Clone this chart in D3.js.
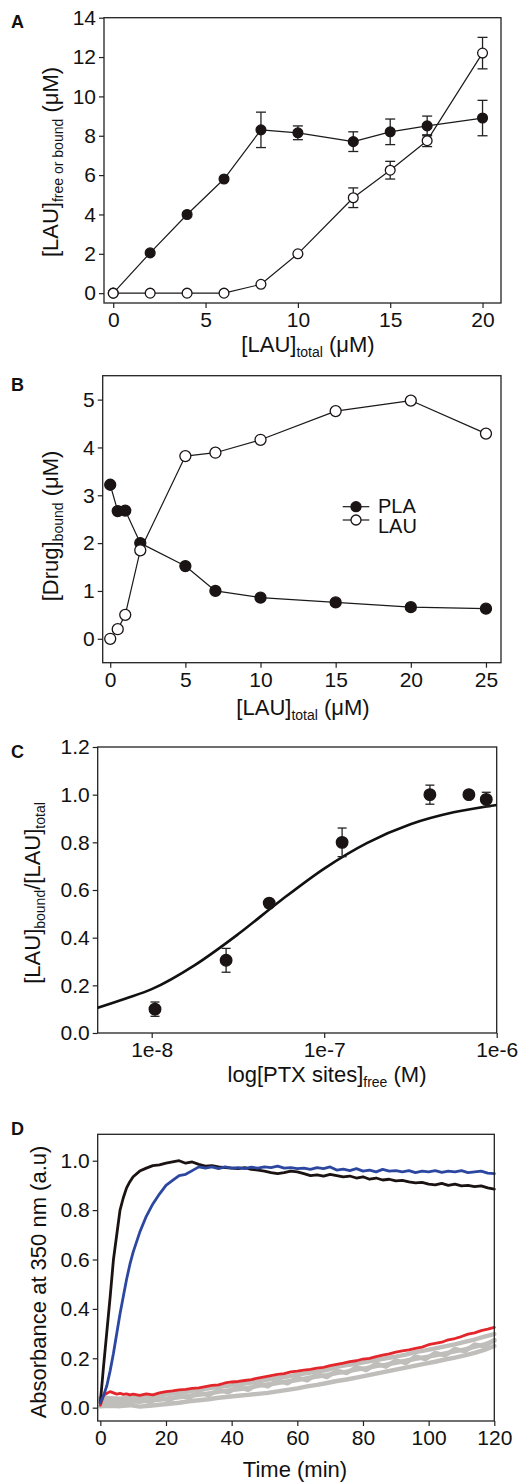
<!DOCTYPE html>
<html><head><meta charset="utf-8">
<script src="https://cdn.jsdelivr.net/npm/d3@7"></script>
<style>body{margin:0;background:#fff}svg{display:block}</style>
</head><body>
<script>
// ---------- Panel A ----------
const aX = [0, 2, 4, 6, 8, 10, 13, 15, 17, 20];
const aBound = [0, 2.05, 4, 5.8, 8.3, 8.15, 7.7, 8.2, 8.5, 8.9];
const aBoundErr = [0, 0, 0, 0, 0.9, 0.35, 0.5, 0.65, 0.5, 0.9];
const aFree = [0, 0, 0, 0, 0.45, 2, 4.85, 6.25, 7.75, 12.2];
const aFreeErr = [0, 0, 0, 0, 0, 0, 0.5, 0.45, 0.3, 0.8];
const aXTicks = [0, 5, 10, 15, 20];
const aYTicks = [0, 2, 4, 6, 8, 10, 12, 14];

// ---------- Panel B ----------
const bX = [0, 0.5, 1, 2, 5, 7, 10, 15, 20, 25];
const bPLA = [3.22, 2.67, 2.68, 2.0, 1.52, 1.0, 0.86, 0.76, 0.66, 0.63];
const bLAU = [0, 0.2, 0.5, 1.85, 3.82, 3.89, 4.16, 4.76, 4.98, 4.29];
const bXTicks = [0, 5, 10, 15, 20, 25];
const bYTicks = [0, 1, 2, 3, 4, 5];
const bLegend = ["PLA", "LAU"];

// ---------- Panel C ----------
const cX = [1.045e-8, 2.7e-8, 4.8e-8, 1.27e-7, 4.1e-7, 6.9e-7, 8.7e-7];
const cY = [0.1, 0.305, 0.545, 0.8, 1.0, 1.0, 0.98];
const cErr = [0.03, 0.05, 0.015, 0.06, 0.04, 0.01, 0.03];
const cFitLogX = [-8.313, -8.15, -8.0, -7.75, -7.5, -7.25, -7.0, -6.75, -6.5, -6.25, -6.0];
const cFitY = [0.106, 0.145, 0.184, 0.285, 0.414, 0.557, 0.69, 0.798, 0.876, 0.926, 0.957];
const cXTicks = [1e-8, 1e-7, 1e-6];
const cXTickLabels = ["1e-8", "1e-7", "1e-6"];
const cYTicks = [0, 0.2, 0.4, 0.6, 0.8, 1.0, 1.2];

// ---------- Panel D ----------
const dT = [0,1,2,3,4,5,6,7,8,9,10,12,14,16,18,20,22,24,26,28,30,32,34,36,38,40,42,44,46,48,50,52,54,56,58,60,62,64,66,68,70,72,74,76,78,80,82,84,86,88,90,92,94,96,98,100,102,104,106,108,110,112,114,116,118,120];
const dBlack = [0.02,0.17,0.31,0.45,0.6,0.7,0.8,0.85,0.89,0.915,0.935,
  0.958,0.97,0.98,0.983,0.99,0.995,1.0,0.99,0.995,0.985,0.978,0.98,0.975,0.972,0.97,0.968,0.972,0.965,0.962,0.958,0.952,0.948,0.952,0.958,0.955,0.948,0.94,0.943,0.938,0.945,0.94,0.935,0.938,0.93,0.935,0.925,0.93,0.922,0.925,0.918,0.92,0.914,0.91,0.912,0.905,0.902,0.908,0.9,0.905,0.898,0.9,0.895,0.898,0.89,0.885];
const dBlue = [0.02,0.05,0.09,0.15,0.22,0.3,0.38,0.45,0.52,0.58,0.63,
  0.71,0.775,0.825,0.865,0.9,0.92,0.94,0.945,0.96,0.975,0.97,0.975,0.968,0.975,0.97,0.972,0.968,0.974,0.97,0.975,0.972,0.978,0.97,0.972,0.968,0.97,0.965,0.972,0.968,0.975,0.962,0.966,0.96,0.968,0.958,0.962,0.955,0.965,0.958,0.96,0.955,0.96,0.952,0.958,0.955,0.96,0.953,0.958,0.955,0.96,0.952,0.955,0.958,0.95,0.948];
const dRed = [0.01,0.05,0.058,0.065,0.06,0.055,0.058,0.054,0.056,0.052,0.055,
  0.05,0.056,0.052,0.06,0.065,0.068,0.072,0.074,0.078,0.08,0.085,0.09,0.092,0.1,0.104,0.106,0.11,0.114,0.12,0.125,0.13,0.135,0.138,0.145,0.148,0.152,0.155,0.16,0.163,0.17,0.175,0.18,0.186,0.19,0.197,0.2,0.207,0.213,0.218,0.225,0.23,0.234,0.24,0.245,0.255,0.26,0.265,0.275,0.28,0.288,0.298,0.303,0.312,0.318,0.325];
const dTGray = [0,3,6,9,12,15,18,21,24,27,30,33,36,39,42,45,48,51,54,57,60,63,66,69,72,75,78,81,84,87,90,93,96,99,102,105,108,111,114,117,120];
const dGray1 = [0.04,0.038,0.036,0.04,0.042,0.046,0.05,0.056,0.06,0.066,0.072,0.078,0.084,0.088,0.094,0.1,0.106,0.114,0.12,0.126,0.134,0.14,0.146,0.152,0.165,0.172,0.178,0.186,0.193,0.2,0.207,0.215,0.225,0.232,0.24,0.248,0.256,0.266,0.276,0.288,0.298];
const dGray2 = [0.02,0.025,0.022,0.026,0.024,0.03,0.032,0.038,0.042,0.048,0.052,0.058,0.064,0.07,0.074,0.08,0.088,0.094,0.1,0.106,0.112,0.12,0.126,0.132,0.14,0.146,0.154,0.16,0.168,0.174,0.182,0.19,0.198,0.205,0.212,0.22,0.228,0.236,0.246,0.256,0.27];
const dGray3 = [0.005,0.008,0.006,0.01,0.004,0.008,0.012,0.016,0.02,0.026,0.03,0.034,0.04,0.044,0.048,0.052,0.056,0.06,0.066,0.072,0.078,0.086,0.092,0.1,0.108,0.114,0.122,0.13,0.138,0.146,0.154,0.162,0.17,0.178,0.186,0.195,0.203,0.212,0.222,0.234,0.25];
const dGray4 = [0.03,0.015,0.03,0.02,0.034,0.022,0.04,0.03,0.05,0.04,0.062,0.05,0.072,0.062,0.084,0.072,0.096,0.086,0.11,0.098,0.122,0.11,0.136,0.124,0.15,0.14,0.164,0.152,0.178,0.166,0.192,0.18,0.208,0.196,0.222,0.212,0.238,0.228,0.256,0.248,0.275];
const dXTicks = [0, 20, 40, 60, 80, 100, 120];
const dYTicks = [0, 0.2, 0.4, 0.6, 0.8, 1.0];

// ---------- drawing ----------
const FONT = "Arial, 'Liberation Sans', Helvetica, sans-serif";
const INK = "#1b1414";
const svg = d3.select("body").append("svg").attr("width", 521).attr("height", 1483)
  .style("font-family", FONT);

function frame(x0, y0, x1, y1) {
  svg.append("rect").attr("x", x0).attr("y", y0).attr("width", x1 - x0).attr("height", y1 - y0)
    .attr("fill", "none").attr("stroke", "#222").attr("stroke-width", 1.3);
}
function axes(x, y, x0, y1, xt, yt, xf, yf, fs) {
  const gy = svg.append("g").attr("transform", `translate(${x0},0)`)
    .call(d3.axisLeft(y).tickValues(yt).tickFormat(yf).tickSize(5).tickPadding(3));
  const gx = svg.append("g").attr("transform", `translate(0,${y1})`)
    .call(d3.axisBottom(x).tickValues(xt).tickFormat(xf).tickSize(5).tickPadding(4));
  [gx, gy].forEach(g => {
    g.select(".domain").remove();
    g.selectAll("line").attr("stroke", "#222").attr("stroke-width", 1.2);
    g.selectAll("text").attr("font-size", fs).attr("font-family", FONT).attr("fill", "#111");
  });
}
function richText(x, y, parts, rotate, size) {
  const t = svg.append("text").attr("text-anchor", "middle").attr("font-size", size).attr("fill", "#111")
    .attr("transform", `translate(${x},${y})` + (rotate ? " rotate(-90)" : ""));
  let shifted = 0;
  parts.forEach(p => {
    const ts = t.append("tspan").text(p[0]);
    if (p[1]) { ts.attr("font-size", 14).attr("dy", 5 - shifted); shifted = 5; }
    else { if (shifted) ts.attr("dy", -shifted); shifted = 0; }
  });
}
function letter(s, y) {
  svg.append("text").attr("x", 11).attr("y", y).attr("font-size", 18).attr("font-weight", "bold")
    .attr("fill", "#111").text(s);
}
function errBars(x, y, xs, ys, es, cap) {
  xs.forEach((v, i) => {
    if (!es[i]) return;
    const cx = x(v), yt = y(ys[i] + es[i]), yb = y(ys[i] - es[i]);
    const g = svg.append("g").attr("stroke", "#222").attr("stroke-width", 1.3);
    g.append("line").attr("x1", cx).attr("x2", cx).attr("y1", yt).attr("y2", yb);
    g.append("line").attr("x1", cx - cap / 2).attr("x2", cx + cap / 2).attr("y1", yt).attr("y2", yt);
    g.append("line").attr("x1", cx - cap / 2).attr("x2", cx + cap / 2).attr("y1", yb).attr("y2", yb);
  });
}
function pline(x, y, xs, ys, color, w) {
  svg.append("path").datum(xs.map((v, i) => [v, ys[i]]))
    .attr("d", d3.line().x(d => x(d[0])).y(d => y(d[1])))
    .attr("fill", "none").attr("stroke", color).attr("stroke-width", w)
    .attr("stroke-linejoin", "round").attr("stroke-linecap", "round");
}
function dots(x, y, xs, ys, r, filled) {
  svg.append("g").selectAll("circle").data(xs).join("circle")
    .attr("cx", d => x(d)).attr("cy", (d, i) => y(ys[i])).attr("r", r)
    .attr("fill", filled ? INK : "#fff").attr("stroke", INK).attr("stroke-width", 1.3);
}

// Panel A
{
  const x0 = 104, x1 = 501, y0 = 17.7, y1 = 303;
  const x = d3.scaleLinear().domain([-0.5, 21]).range([x0, x1]);
  const y = d3.scaleLinear().domain([-0.5, 14]).range([y1, y0]);
  frame(x0, y0, x1, y1);
  axes(x, y, x0, y1, aXTicks, aYTicks, d3.format("d"), d3.format("d"), 21);
  errBars(x, y, aX, aBound, aBoundErr, 10);
  errBars(x, y, aX, aFree, aFreeErr, 10);
  pline(x, y, aX, aBound, "#1a1a1a", 1.2);
  pline(x, y, aX, aFree, "#1a1a1a", 1.2);
  dots(x, y, aX, aBound, 4.9, true);
  dots(x, y, aX, aFree, 4.9, false);
  letter("A", 28);
  richText(58, 162, [["[LAU]"], ["free or bound", 1], [" (\u03bcM)"]], true, 22);
  richText(308, 352, [["[LAU]"], ["total", 1], [" (\u03bcM)"]], false, 22);
}
// Panel B
{
  const x0 = 102.7, x1 = 501, y0 = 375.7, y1 = 662.7;
  const x = d3.scaleLinear().domain([-0.5, 26]).range([x0, x1]);
  const y = d3.scaleLinear().domain([-0.5, 5.5]).range([y1, y0]);
  frame(x0, y0, x1, y1);
  axes(x, y, x0, y1, bXTicks, bYTicks, d3.format("d"), d3.format("d"), 21);
  pline(x, y, bX, bPLA, "#1a1a1a", 1.2);
  pline(x, y, bX, bLAU, "#1a1a1a", 1.2);
  dots(x, y, bX, bPLA, 5.5, true);
  dots(x, y, bX, bLAU, 5.5, false);
  bLegend.forEach((name, i) => {
    const ly = 506.7 + i * 13.3;
    svg.append("line").attr("x1", 342.7).attr("x2", 369.3).attr("y1", ly).attr("y2", ly)
      .attr("stroke", "#1a1a1a").attr("stroke-width", 1.2);
    svg.append("circle").attr("cx", 356).attr("cy", ly).attr("r", 5)
      .attr("fill", i === 0 ? INK : "#fff").attr("stroke", INK).attr("stroke-width", 1.3);
    svg.append("text").attr("x", 378).attr("y", 513 + i * 20).attr("font-size", 20).attr("fill", "#111").text(name);
  });
  letter("B", 391);
  richText(58, 526, [["[Drug]"], ["bound", 1], [" (\u03bcM)"]], true, 22);
  richText(303, 715, [["[LAU]"], ["total", 1], [" (\u03bcM)"]], false, 22);
}
// Panel C
{
  const x0 = 97.7, x1 = 496.7, y0 = 747, y1 = 1033;
  const x = d3.scaleLog().domain([Math.pow(10, -8.313), 1e-6]).range([x0, x1]);
  const y = d3.scaleLinear().domain([0, 1.2]).range([y1, y0]);
  frame(x0, y0, x1, y1);
  axes(x, y, x0, y1, cXTicks, cYTicks, (d, i) => cXTickLabels[i], d3.format(".1f"), 21);
  svg.append("path").datum(cFitLogX.map((v, i) => [Math.pow(10, v), cFitY[i]]))
    .attr("d", d3.line().x(d => x(d[0])).y(d => y(d[1])).curve(d3.curveMonotoneX))
    .attr("fill", "none").attr("stroke", "#111").attr("stroke-width", 2.6);
  errBars(x, y, cX, cY, cErr, 9);
  dots(x, y, cX, cY, 5.8, true);
  letter("C", 758);
  richText(40, 893, [["[LAU]"], ["bound", 1], ["/[LAU]"], ["total", 1]], true, 22);
  richText(327, 1082, [["log[PTX sites]"], ["free", 1], [" (M)"]], false, 22);
}
// Panel D
{
  const x0 = 97.7, x1 = 494.3, y0 = 1134.3, y1 = 1421;
  const x = d3.scaleLinear().domain([-0.8, 120]).range([x0, x1]);
  const y = d3.scaleLinear().domain([-0.054, 1.107]).range([y1, y0]);
  axes(x, y, x0, y1, dXTicks, dYTicks, d3.format("d"), d3.format(".1f"), 21);
  [dGray1, dGray4, dGray2, dGray3].forEach(g => pline(x, y, dTGray, g, "#bfbebb", 4.4));
  pline(x, y, dT, dRed, "#e3262b", 2.8);
  pline(x, y, dT, dBlack, "#1b1212", 2.8);
  pline(x, y, dT, dBlue, "#2c47a0", 2.8);
  frame(x0, y0, x1, y1);
  letter("D", 1135);
  richText(46, 1282, [["Absorbance at 350 nm (a.u)"]], true, 22);
  richText(295, 1477, [["Time (min)"]], false, 22);
}
</script>
</body></html>
